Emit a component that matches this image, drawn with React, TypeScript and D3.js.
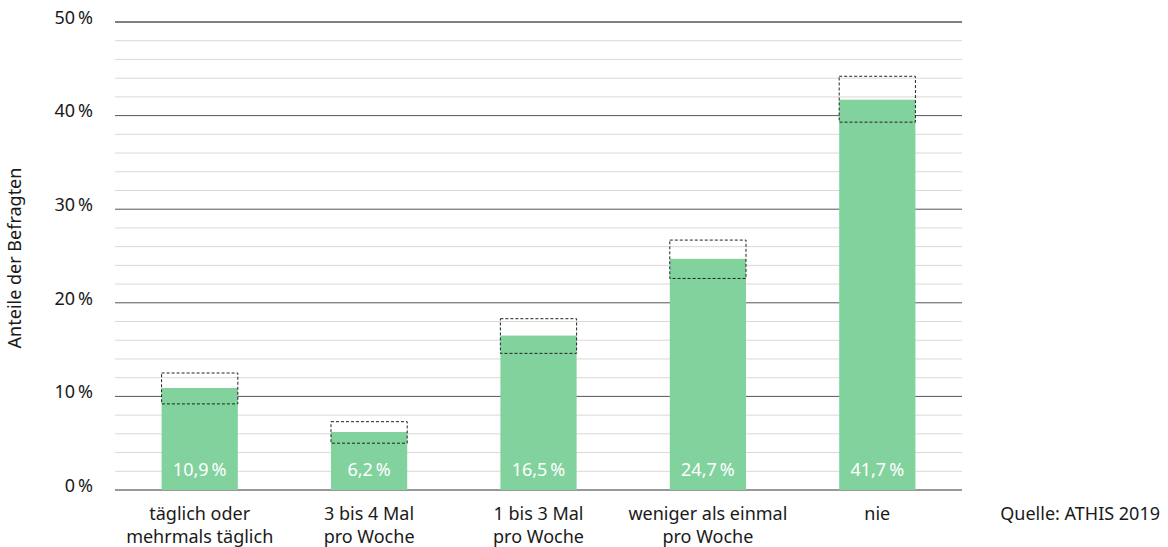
import * as d3 from 'd3';

const categories = [
  ['täglich oder', 'mehrmals täglich'],
  ['3 bis 4 Mal', 'pro Woche'],
  ['1 bis 3 Mal', 'pro Woche'],
  ['weniger als einmal', 'pro Woche'],
  ['nie'],
];
const values = [10.9, 6.2, 16.5, 24.7, 41.7];
const ciLow = [9.2, 5.0, 14.6, 22.6, 39.3];
const ciHigh = [12.5, 7.3, 18.3, 26.7, 44.2];
const majorTicks = [0, 10, 20, 30, 40, 50];
const minorTicks = d3.range(2, 50, 2).filter((t) => t % 10 !== 0);

const WIDTH = 1168;
const HEIGHT = 547;
const MARGIN = { top: 22, right: 206, bottom: 57, left: 115 };
const FONT = "'Noto Sans', sans-serif";

const fmt = (v: number) => `${v.toFixed(1).replace('.', ',')}\u202f%`;

export default function App() {
  const boundsWidth = WIDTH - MARGIN.left - MARGIN.right;
  const boundsHeight = HEIGHT - MARGIN.top - MARGIN.bottom;

  const yScale = d3.scaleLinear().domain([0, 50]).range([boundsHeight, 0]);
  const xScale = d3
    .scaleBand<number>()
    .domain(d3.range(values.length))
    .range([0, boundsWidth])
    .paddingInner(0.55)
    .paddingOuter(0.275);

  return (
    <svg
      width={WIDTH}
      height={HEIGHT}
      style={{ position: 'absolute', left: 0, top: 0, fontFamily: FONT }}
    >
      <g transform={`translate(${MARGIN.left},${MARGIN.top})`}>
        {/* minor grid */}
        {minorTicks.map((t) => (
          <line
            key={'m' + t}
            x1={0}
            x2={boundsWidth}
            y1={yScale(t)}
            y2={yScale(t)}
            stroke="#dcd8d2"
            strokeWidth={1}
          />
        ))}
        {/* major grid */}
        {majorTicks.map((t) => (
          <g key={'M' + t}>
            <line
              x1={0}
              x2={boundsWidth}
              y1={yScale(t)}
              y2={yScale(t)}
              stroke={t === 50 ? '#000' : t === 0 ? '#333' : '#555'}
              strokeWidth={1}
            />
            <text
              x={-22}
              y={yScale(t)}
              dy="0.1em"
              textAnchor="end"
              fontSize={18}
              fill="#1a1a1a"
            >
              {`${t}\u2009%`}
            </text>
          </g>
        ))}
        {/* bars */}
        {values.map((v, i) => {
          const x = xScale(i) ?? 0;
          const w = xScale.bandwidth();
          return (
            <g key={i}>
              <rect
                x={x}
                y={yScale(v)}
                width={w}
                height={boundsHeight - yScale(v)}
                fill="#82d29e"
              />
              <rect
                x={x}
                y={yScale(ciHigh[i])}
                width={w}
                height={yScale(ciLow[i]) - yScale(ciHigh[i])}
                fill="none"
                stroke="#222"
                strokeWidth={1}
                strokeDasharray="3,2"
              />
              <text
                x={x + w / 2}
                y={boundsHeight - 14}
                textAnchor="middle"
                fontSize={18}
                fill="#fff"
              >
                {fmt(v)}
              </text>
              {categories[i].map((line, j) => (
                <text
                  key={j}
                  x={x + w / 2}
                  y={boundsHeight + 30 + j * 23}
                  textAnchor="middle"
                  fontSize={18}
                  fill="#1a1a1a"
                >
                  {line}
                </text>
              ))}
            </g>
          );
        })}
      </g>
      <text
        transform={`translate(21,${MARGIN.top + boundsHeight / 2 + 2}) rotate(-90)`}
        textAnchor="middle"
        fontSize={18}
        fill="#1a1a1a"
      >
        Anteile der Befragten
      </text>
      <text x={1160} y={MARGIN.top + boundsHeight + 30} textAnchor="end" fontSize={18} fill="#1a1a1a">
        Quelle: ATHIS 2019
      </text>
    </svg>
  );
}
